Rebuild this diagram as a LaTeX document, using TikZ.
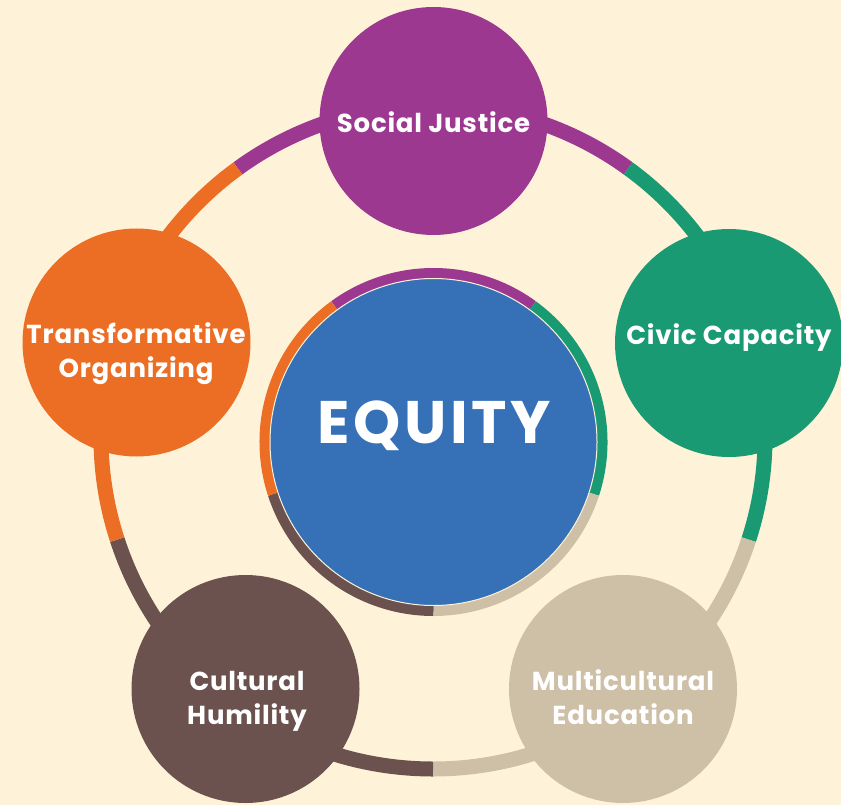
\documentclass[tikz,border=0pt]{standalone}
\usepackage{fontspec}
\setmainfont{Poppins}
\newfontfamily\topicfont{Poppins}[LetterSpace=3]
\newfontfamily\equityfont{Poppins}[LetterSpace=6]
\usepackage{tikz}
\definecolor{bgcream}{HTML}{FEF3D8}
\definecolor{sjpurple}{HTML}{9D3891}
\definecolor{ccgreen}{HTML}{199A73}
\definecolor{metan}{HTML}{CEC0A7}
\definecolor{chbrown}{HTML}{6C524E}
\definecolor{toorange}{HTML}{EB6E24}
\definecolor{eqblue}{HTML}{3670B6}
\tikzset{
  topictext/.style={text=white, font=\topicfont\bfseries\fontsize{19.5}{25.5}\selectfont, align=center, inner sep=0pt},
  equitytext/.style={text=white, font=\equityfont\bfseries\fontsize{45}{45}\selectfont, inner sep=0pt},
}
\begin{document}
\begin{tikzpicture}[x=0.75pt,y=0.75pt,yscale=-1,xscale=1]
                  %set diagram left start at 0, width 841 and height 805
                  \fill [bgcream] (0,0) rectangle (841,805);
                  \useasboundingbox (0,0) rectangle (841,805);

                  %Shape: Arc [outer ring, one colour per topic]
                  \foreach \col/\a in {sjpurple/-90, ccgreen/-18, metan/54, chbrown/126, toorange/198}
                    \draw [line width=11.25pt, \col] (433,437) ++(\a-36:332) arc [start angle=\a-36, end angle=\a+36, radius=332];

                  %Shape: Circle [Social Justice]
                  \fill [sjpurple] (433.5,121) circle [radius=114];
                  %Shape: Circle [Civic Capacity]
                  \fill [ccgreen] (729,343) circle [radius=114];
                  %Shape: Circle [Multicultural Education]
                  \fill [metan] (623,689) circle [radius=114];
                  %Shape: Circle [Cultural Humility]
                  \fill [chbrown] (245.5,689) circle [radius=114];
                  %Shape: Circle [Transformative Organizing]
                  \fill [toorange] (136.5,342.5) circle [radius=114];

                  %Shape: Arc [inner ring]
                  \foreach \col/\a in {sjpurple/-90, ccgreen/-18, metan/54, chbrown/126, toorange/198}
                    \draw [line width=8.25pt, \col] (433.5,442) ++(\a-36:168.5) arc [start angle=\a-36, end angle=\a+36, radius=168.5];
                  %Shape: Circle [Equity]
                  \filldraw [fill=eqblue, draw=bgcream, line width=0.75pt] (433.5,442) circle [radius=163.5];

                  % Text Node
                  \node [topictext, anchor=base] (social) at (433.5,133) {Social Justice};
                  % Text Node
                  \node [topictext, anchor=base] (civic) at (729,344) {Civic Capacity};
                  % Text Node
                  \node [topictext] (transform) at (136,354) {Transformative\\Organizing};
                  % Text Node
                  \node [topictext] (cultural) at (247,701.5) {Cultural\\Humility};
                  % Text Node
                  \node [topictext] (multi) at (623,697) {Multicultural\\Education};
                  % Text Node
                  \node [equitytext, anchor=base] (equity) at (434,443) {EQUITY};

\end{tikzpicture}
\end{document}
